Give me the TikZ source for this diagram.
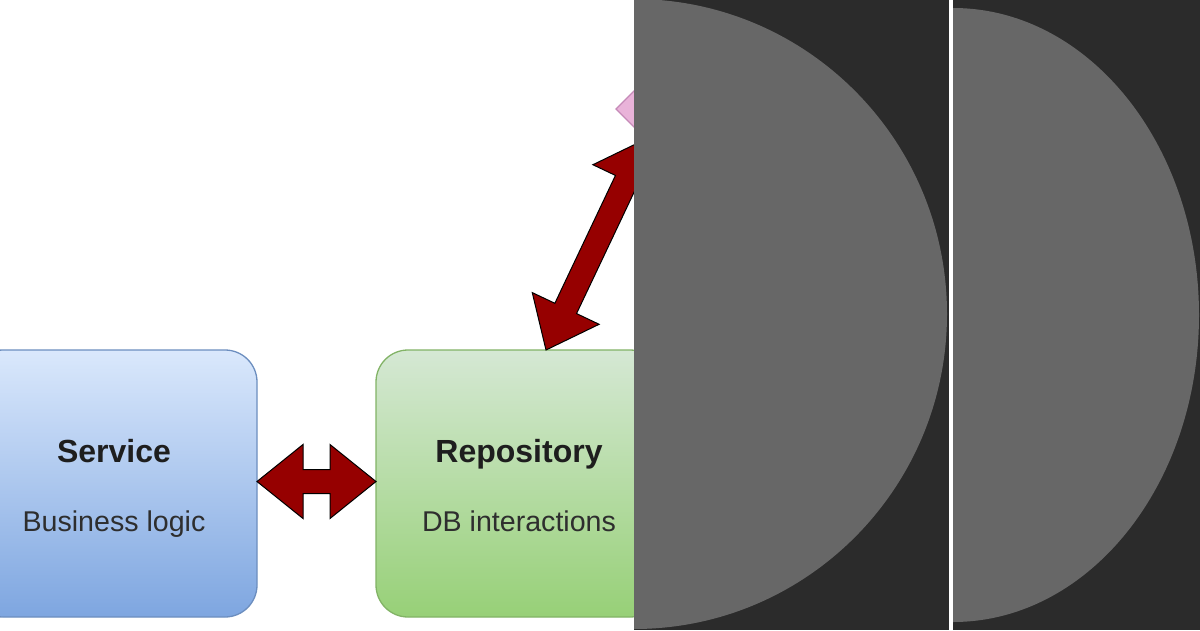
\documentclass[tikz,border=0pt]{standalone}
\usepackage{fontspec}
\setmainfont{Liberation Sans}
\usetikzlibrary{calc,shapes.geometric}
\definecolor{svctop}{HTML}{DAE8FC}
\definecolor{svcbot}{HTML}{7EA6E0}
\definecolor{svcline}{HTML}{6C8EBF}
\definecolor{repotop}{HTML}{D5E8D4}
\definecolor{repobot}{HTML}{97D077}
\definecolor{repoline}{HTML}{82B366}
\definecolor{arrred}{HTML}{960000}
\definecolor{pinkfill}{HTML}{E9B3D9}
\definecolor{pinkline}{HTML}{C58AB8}
\definecolor{paneldark}{HTML}{2B2B2B}
\definecolor{discgray}{HTML}{676767}
\definecolor{txt}{HTML}{1E1E1E}
\definecolor{subtxtcol}{HTML}{2E2E2E}
\tikzset{
  boxbase/.style={rectangle, rounded corners=32pt, line width=1.3pt, minimum width=286pt, minimum height=267pt, inner sep=0pt, outer sep=0pt},
  svcbox/.style={boxbase, draw=svcline, top color=svctop, bottom color=svcbot},
  repobox/.style={boxbase, draw=repoline, top color=repotop, bottom color=repobot},
  titletxt/.style={anchor=base, inner sep=0pt, text=txt, font=\fontsize{32}{38}\selectfont\bfseries},
  subtxt/.style={anchor=base, inner sep=0pt, text=subtxtcol, font=\fontsize{28.6}{34}\selectfont},
  blockarrow/.style={fill=arrred, draw=black, line width=1pt, line join=miter},
  pinkdiamond/.style={diamond, fill=pinkfill, draw=pinkline, line width=1.2pt, minimum width=120pt, minimum height=120pt, inner sep=0pt, outer sep=0pt},
  darkpanel/.style={fill=paneldark},
  halfdisc/.style={fill=discgray}
}
\newcommand\blockarr[3]{%
  \coordinate (#3-a) at ($(#1)!46pt!(#2)$);
  \coordinate (#3-b) at ($(#2)!46pt!(#1)$);
  \filldraw[blockarrow] (#1)
    -- ($(#3-a)!37pt!90:(#2)$) -- ($(#3-a)!12pt!90:(#2)$)
    -- ($(#3-b)!12pt!-90:(#1)$) -- ($(#3-b)!37pt!-90:(#1)$)
    -- (#2)
    -- ($(#3-b)!37pt!90:(#1)$) -- ($(#3-b)!12pt!90:(#1)$)
    -- ($(#3-a)!12pt!-90:(#2)$) -- ($(#3-a)!37pt!-90:(#2)$)
    -- cycle;}
\begin{document}
\begin{tikzpicture}[x=1pt,y=-1pt]
\useasboundingbox (0,0) rectangle (1200,630);
\clip (0,0) rectangle (1200,630);
\fill[white] (0,0) rectangle (1200,630);
% boxes
\node[svcbox] (svc) at (114,483.5) {};
\node[repobox] (repo) at (519,483.5) {};
\node[titletxt] (svctitle) at (114,462) {Service};
\node[subtxt] (svcsub) at (114,531) {Business logic};
\node[titletxt] (repotitle) at (519,462) {Repository};
\node[subtxt] (reposub) at (519,531) {DB interactions};
% diamond
\node[pinkdiamond] (dia) at (676,109) {};
% connectors
\coordinate (svcport) at ($(svc.east)+(0,-2)$);
\coordinate (repoport) at ($(repo.west)+(0,-2)$);
\blockarr{svcport}{repoport}{h}
\coordinate (repotop) at ($(repo.north)+(27,0)$);
\blockarr{repotop}{dia.south west}{d}
% dark panels
\fill[darkpanel] (634,0) rectangle (949,630);
\fill[darkpanel] (953,0) rectangle (1200,630);
\begin{scope}
  \clip (634,0) rectangle (949,630);
  \fill[halfdisc] (634,314) ellipse [x radius=313pt, y radius=315pt];
\end{scope}
\begin{scope}
  \clip (953,0) rectangle (1200,630);
  \fill[halfdisc] (953,315) ellipse [x radius=246pt, y radius=307pt];
\end{scope}
\end{tikzpicture}
\end{document}
